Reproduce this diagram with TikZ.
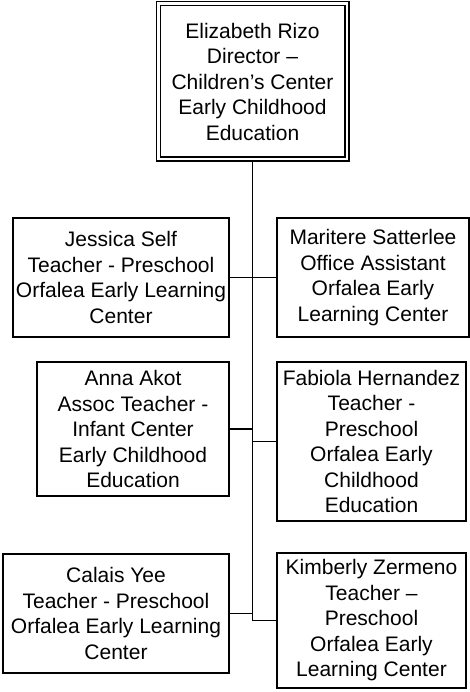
\documentclass[tikz,border=0pt]{standalone}
\usepackage{fontspec}
\setmainfont{Liberation Sans}
\usetikzlibrary{scopes}

\begin{document}
\begin{tikzpicture}[
    x=1pt,y=-1pt,
    staff/.style={draw=black,line width=1.8pt,align=center,inner sep=0pt,
        font=\fontsize{21}{25.5}\selectfont},
    head/.style={staff,line width=1.5pt,double,double distance=2.5pt,outer sep=2.75pt},
    link/.style={draw=black,line width=1.8pt},
]
    \useasboundingbox (0,0) rectangle (470,692);
    \node[head,minimum width=188.5pt,minimum height=155.5pt] (rizo) at (252.5,81.5)
        {Elizabeth Rizo\\Director –\\Children’s Center\\Early Childhood\\Education};
    \node[staff,minimum width=216pt,minimum height=119pt] (self) at (121,277.5)
        {Jessica Self\\Teacher - Preschool\\Orfalea Early Learning\\Center};
    \node[staff,minimum width=192pt,minimum height=119pt] (satterlee) at (373,277.5)
        {Maritere Satterlee\\Office Assistant\\Orfalea Early\\Learning Center};
    \node[staff,minimum width=192pt,minimum height=134pt] (akot) at (133,429)
        {Anna Akot\\Assoc Teacher -\\Infant Center\\Early Childhood\\Education};
    \node[staff,minimum width=189pt,minimum height=159pt] (hernandez) at (371.5,441.5)
        {Fabiola Hernandez\\Teacher -\\Preschool\\Orfalea Early\\Childhood\\Education};
    \node[staff,minimum width=226pt,minimum height=119pt] (yee) at (116,613.5)
        {Calais Yee\\Teacher - Preschool\\Orfalea Early Learning\\Center};
    \node[staff,minimum width=189pt,minimum height=135pt] (zermeno) at (371.5,620.5)
        {Kimberly Zermeno\\Teacher –\\Preschool\\Orfalea Early\\Learning Center};
    {[link]
        \draw (rizo.south) |- (zermeno.west);
        \draw (self.east) -- (satterlee.west);
        \draw (akot.east) -- (akot.east -| rizo.south);
        \draw (hernandez.west) -- (hernandez.west -| rizo.south);
        \draw (yee.east) -- (yee.east -| rizo.south);
    }
\end{tikzpicture}
\end{document}
